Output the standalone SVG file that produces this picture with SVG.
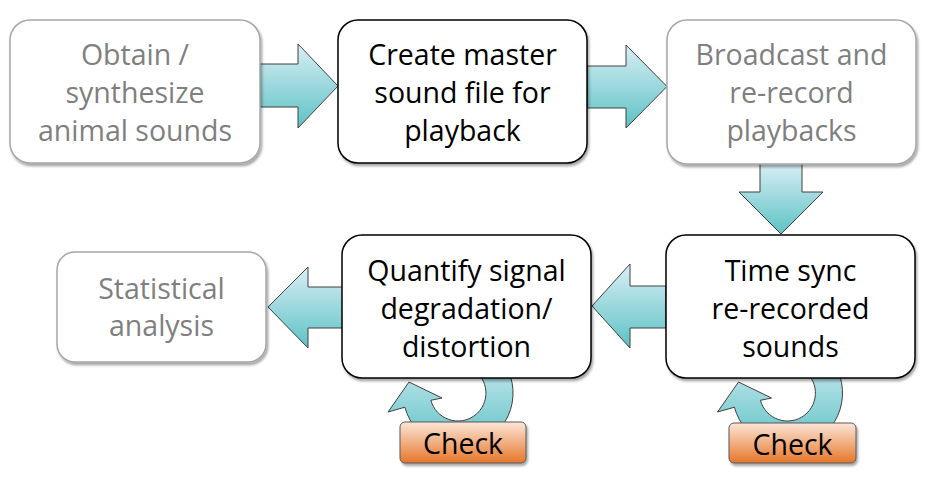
<svg xmlns="http://www.w3.org/2000/svg" width="933" height="488" viewBox="0 0 933 488">
<defs>
<linearGradient id="blue" x1="0" y1="0" x2="0" y2="1">
<stop offset="0" stop-color="#d9eef6"/>
<stop offset="1" stop-color="#5cc2c4"/>
</linearGradient>
<linearGradient id="orange" x1="0" y1="0" x2="0" y2="1">
<stop offset="0" stop-color="#fce6d8"/>
<stop offset="1" stop-color="#e6762a"/>
</linearGradient>
<filter id="sh" x="-10%" y="-10%" width="130%" height="130%">
<feDropShadow dx="1.5" dy="2.5" stdDeviation="1" flood-color="#000" flood-opacity="0.35"/>
</filter>
</defs>
<style>
.box{fill:#fff;filter:url(#sh)}
.gray{stroke:#a6a6a6;stroke-width:1.5}
.blk{stroke:#000;stroke-width:1.5}
.arr{fill:url(#blue);stroke:#404040;stroke-width:1}
.chk{fill:url(#orange);stroke:#595959;stroke-width:1;filter:url(#sh)}
text{font-family:"Open Sans","Noto Sans",sans-serif;font-size:28.5px;text-anchor:middle}
.gt{fill:#7f7f7f}
.bt{fill:#000}
</style>
<g id="connectors">
<path class="arr" d="M260,64 H298 V44 L338,86 L298,128 V107 H260 Z"/>
<path class="arr" d="M587,66 H626 V45 L667,86.5 L626,128 V108 H587 Z"/>
<path class="arr" d="M760,163 H802 V192 H823 L781,234 L739,192 H760 Z"/>
<path class="arr" d="M666,286 H630 V264 L592,306 L630,348 V328 H666 Z"/>
<path class="arr" d="M343,287 H308 V267 L268,307 L308,348 V328 H343 Z"/>
<path id="loop1" class="arr" d="M485.5,345.4 A55,55 0 1,1 404.9,407.2 L388,412 L409,382 L442,398 L430.9,400.3 A28,28 0 1,0 472,368.8 Z"/>
<path id="loop2" class="arr" transform="translate(329.5,0)" d="M485.5,345.4 A55,55 0 1,1 404.9,407.2 L388,412 L409,382 L442,398 L430.9,400.3 A28,28 0 1,0 472,368.8 Z"/>
</g>
<g id="obtain">
<rect class="box gray" x="10" y="20" width="250" height="143" rx="20"/>
<text class="gt" x="135" y="65">Obtain /</text>
<text class="gt" x="135" y="103">synthesize</text>
<text class="gt" x="135" y="141">animal sounds</text>
</g>
<g id="create">
<rect class="box blk" x="338" y="20" width="249" height="143" rx="20"/>
<text class="bt" x="462.5" y="65">Create master</text>
<text class="bt" x="462.5" y="103">sound file for</text>
<text class="bt" x="462.5" y="141">playback</text>
</g>
<g id="broadcast">
<rect class="box gray" x="667" y="20" width="249" height="144" rx="20"/>
<text class="gt" x="791.5" y="65">Broadcast and</text>
<text class="gt" x="791.5" y="103">re-record</text>
<text class="gt" x="791.5" y="141">playbacks</text>
</g>
<g id="timesync">
<rect class="box blk" x="666" y="235" width="249" height="143" rx="20"/>
<text class="bt" x="790.5" y="281">Time sync</text>
<text class="bt" x="790.5" y="319">re-recorded</text>
<text class="bt" x="790.5" y="357">sounds</text>
</g>
<g id="quantify">
<rect class="box blk" x="342" y="235" width="249" height="143" rx="20"/>
<text class="bt" x="466.5" y="281">Quantify signal</text>
<text class="bt" x="466.5" y="319">degradation/</text>
<text class="bt" x="466.5" y="357">distortion</text>
</g>
<g id="statistical">
<rect class="box gray" x="57" y="252" width="209" height="110" rx="18"/>
<text class="gt" x="161.5" y="299">Statistical</text>
<text class="gt" x="161.5" y="336">analysis</text>
</g>
<g id="check1">
<rect class="chk" x="400" y="422" width="126" height="41" rx="5"/>
<text class="bt" x="463" y="454">Check</text>
</g>
<g id="check2">
<rect class="chk" x="729" y="423" width="127" height="40" rx="5"/>
<text class="bt" x="792.5" y="455">Check</text>
</g>
</svg>
